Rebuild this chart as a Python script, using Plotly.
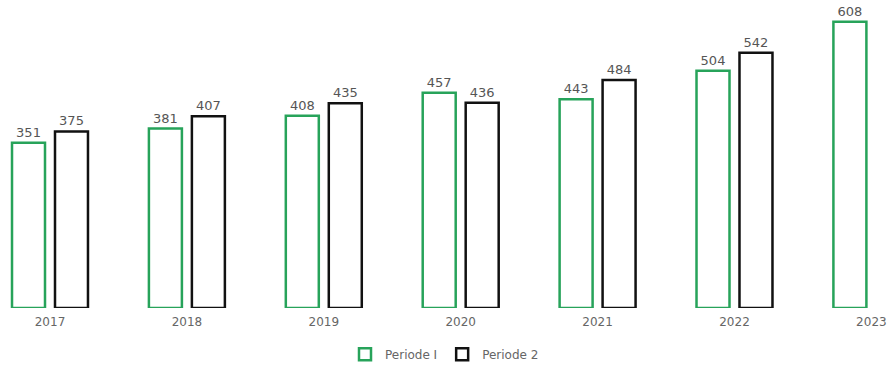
import plotly.graph_objects as go

years = ["2017", "2018", "2019", "2020", "2021", "2022", "2023"]
periode1 = [351, 381, 408, 457, 443, 504, 608]
periode2 = [375, 407, 435, 436, 484, 542, None]

font_family = "'DejaVu Sans', sans-serif"

fig = go.Figure()
fig.add_trace(go.Bar(
    x=years, y=periode1, name="Periode I",
    marker=dict(color="white", line=dict(color="#27a35a", width=2.5)),
    text=[str(v) for v in periode1], textposition="outside",
    textfont=dict(color="#555555", size=13, family=font_family),
    cliponaxis=False,
))
fig.add_trace(go.Bar(
    x=years, y=periode2, name="Periode 2",
    marker=dict(color="white", line=dict(color="#111111", width=2.5)),
    text=[str(v) if v is not None else "" for v in periode2], textposition="outside",
    textfont=dict(color="#555555", size=13, family=font_family),
    cliponaxis=False,
))

fig.update_layout(
    width=889, height=369,
    margin=dict(l=0, r=0, t=0, b=59),
    paper_bgcolor="white", plot_bgcolor="white",
    barmode="group", bargap=0.372, bargroupgap=0.2326,
    font=dict(family=font_family, color="#666666", size=12),
    showlegend=True,
    legend=dict(orientation="h", x=0.5, xanchor="center", y=-0.103, yanchor="top",
                font=dict(size=12, color="#666666"), itemwidth=30,
                traceorder="normal"),
    xaxis=dict(type="category", range=[-0.3652, 6.1286], showgrid=False,
               showline=False, ticks="", zeroline=False, ticklabelstandoff=5,
               tickfont=dict(size=12, color="#666666")),
    yaxis=dict(range=[0, 654], visible=False, showgrid=False, zeroline=False),
)

fig.write_html("out.html", config={"displayModeBar": False},
               post_script="document.body.style.margin='0';")
